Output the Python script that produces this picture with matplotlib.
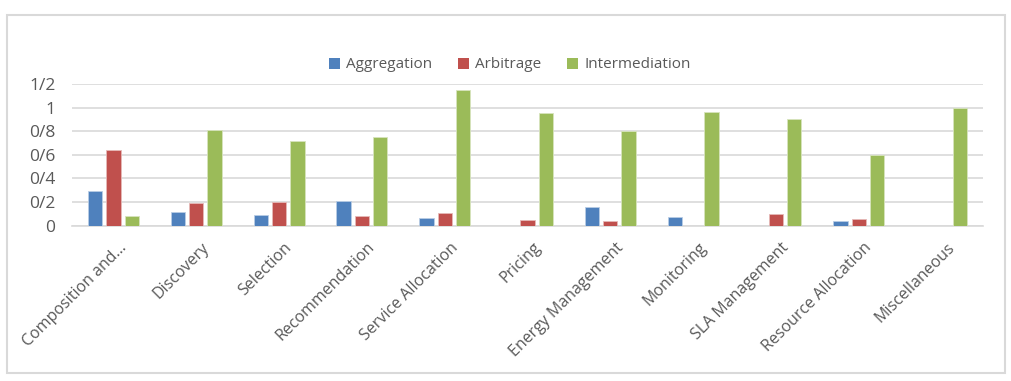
import matplotlib
matplotlib.use("Agg")
import matplotlib.pyplot as plt
import matplotlib.transforms as mtransforms
import numpy as np
from matplotlib.patches import Rectangle

categories = ["Composition and...", "Discovery", "Selection", "Recommendation",
              "Service Allocation", "Pricing", "Energy Management", "Monitoring",
              "SLA Management", "Resource Allocation", "Miscellaneous"]
aggregation = [0.29, 0.115, 0.09, 0.21, 0.06, 0.0, 0.16, 0.075, 0.0, 0.04, 0.0]
arbitrage = [0.64, 0.19, 0.20, 0.08, 0.11, 0.045, 0.04, 0.0, 0.098, 0.055, 0.0]
intermediation = [0.08, 0.81, 0.72, 0.75, 1.15, 0.95, 0.80, 0.96, 0.90, 0.60, 1.0]
series_names = ["Aggregation", "Arbitrage", "Intermediation"]
ytick_vals = [0, 0.2, 0.4, 0.6, 0.8, 1.0, 1.2]
ytick_labels = ["0", "0/2", "0/4", "0/6", "0/8", "1", "1/2"]

colors = ["#4F81BD", "#C0504D", "#9BBB59"]
edges = ["#B9CDE5", "#E6B9B8", "#D7E4BD"]
textc = "#595959"
grid = "#D9D9D9"

plt.rcParams['font.family'] = ['Open Sans', 'DejaVu Sans']

W, H = 1012, 381
fig = plt.figure(figsize=(W / 100, H / 100), dpi=100)
fig.patches.append(Rectangle((7 / W, 1 - 373 / H), 998 / W, 358 / H,
                             transform=fig.transFigure, fill=False,
                             edgecolor=grid, linewidth=1.5))

ax = fig.add_axes([72 / W, 1 - 225.5 / H, 911 / W, 141.5 / H])
x = np.arange(len(categories))
bw = 0.173
off = 0.221
for i, (vals, name) in enumerate(zip([aggregation, arbitrage, intermediation], series_names)):
    ax.bar(x + (i - 1) * off, vals, width=bw, color=colors[i], edgecolor=edges[i],
           linewidth=0.6, label=name, zorder=3)

ax.set_xlim(-0.5, len(categories) - 0.5)
ax.set_ylim(0, 1.2)
ax.set_yticks(ytick_vals)
ax.set_yticklabels(ytick_labels, fontsize=12.5, color=textc)
ax.yaxis.grid(True, color=grid, linewidth=1.2, zorder=0)
ax.set_axisbelow(True)
for s in ["top", "right", "left"]:
    ax.spines[s].set_visible(False)
ax.spines["bottom"].set_color(grid)
ax.spines["bottom"].set_linewidth(1.2)
ax.tick_params(axis="y", length=0, pad=12)
ax.tick_params(axis="x", length=0, pad=10)
ax.set_xticks(x)
ax.set_xticklabels(categories, rotation=45, ha="right", rotation_mode="anchor",
                   fontsize=11.5, color=textc)
shift = mtransforms.ScaledTranslation(5 / 100, 0, fig.dpi_scale_trans)
for lab in ax.get_xticklabels():
    lab.set_transform(lab.get_transform() + shift)

leg = fig.legend(loc="center", bbox_to_anchor=(510 / W, 1 - 65 / H), ncol=3,
                 frameon=False, fontsize=11, handlelength=0.7, handleheight=0.7,
                 handletextpad=0.4, columnspacing=1.7)
for t in leg.get_texts():
    t.set_color(textc)
for h in leg.legend_handles:
    h.set_edgecolor("none")

fig.savefig("out.png", dpi=100)
